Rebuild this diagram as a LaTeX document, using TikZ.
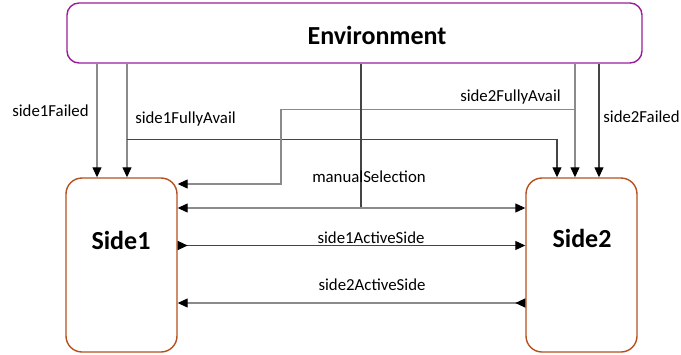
\documentclass[tikz,border=0pt]{standalone}
\usepackage{fontspec}
\setmainfont{Carlito}
\usetikzlibrary{arrows.meta,calc}
\definecolor{envcol}{HTML}{9A1E9A}
\definecolor{sidecol}{HTML}{B5501E}
\definecolor{lightln}{HTML}{8A8A8A}
\definecolor{darkln}{HTML}{454545}
\tikzset{
  tip/.tip={Triangle[width=9pt,length=10pt,color=black]},
  lbl/.style={font=\fontsize{16.8}{20}\selectfont, inner sep=0pt, anchor=center},
  big/.style={font=\fontsize{26}{30}\selectfont\bfseries, inner sep=0pt, anchor=center},
  lnl/.style={draw=lightln, line width=1.1pt},
  lnd/.style={draw=darkln, line width=1.1pt},
  envbox/.style={draw=envcol, line width=1.4pt, rounded corners=12pt, minimum width=575pt, minimum height=60pt, inner sep=0pt},
  sidebox/.style={draw=sidecol, line width=1.4pt, rounded corners=16pt, minimum width=111pt, minimum height=174pt, inner sep=0pt},
}
\begin{document}
\begin{tikzpicture}[x=1pt,y=-1pt]
\useasboundingbox (0,0) rectangle (681,354);
\node[envbox] (env) at (354.5,33) {};
\node[big] (envtext) at (377,35) {Environment};
\node[sidebox] (side1) at (121.5,265) {};
\node[big] (s1text) at (121,240) {Side1};
\node[sidebox] (side2) at (581.5,265) {};
\node[big] (s2text) at (582,238) {Side2};

% helper coordinates
\coordinate (xa) at (97,0);
\coordinate (xb) at (127,0);
\coordinate (xc) at (281,0);
\coordinate (xm) at (361,0);
\coordinate (xd) at (557,0);
\coordinate (xe) at (575,0);
\coordinate (xf) at (599,0);
\coordinate (ya) at (0,109.5);
\coordinate (yb) at (0,139.5);
\coordinate (yc) at (0,184);
\coordinate (ym) at (0,208);
\coordinate (y1) at (0,245.5);
\coordinate (y2) at (0,303);

% side1Failed
\draw[lnl,-tip] (env.south -| xa) -- (side1.north -| xa);
% side1FullyAvail
\draw[lnl,-tip] (env.south -| xb) -- (side1.north -| xb);
\draw[lnd,-tip] (xb |- yb) -- (xd |- yb) -- (side2.north -| xd);
% side2FullyAvail
\draw[lnl,-tip] (env.south -| xe) -- (side2.north -| xe);
\draw[lnl,-tip] (xe |- ya) -- (xc |- ya) -- (xc |- yc) -- (side1.east |- yc);
% side2Failed
\draw[lnd,-tip] (env.south -| xf) -- (side2.north -| xf);
% manualSelection
\draw[lnd] (env.south -| xm) -- (xm |- ym);
\draw[lnl,tip-tip] (side1.east |- ym) -- (side2.west |- ym);
% side1ActiveSide
\draw[lnd,{tip[reversed]}-tip] (side1.east |- y1) -- (side2.west |- y1);
% side2ActiveSide
\draw[lnl,tip-{tip[reversed]}] (side1.east |- y2) -- (side2.west |- y2);

% labels
\node[lbl] (l1) at (50.5,111) {side1Failed};
\node[lbl] (l2) at (185.5,119) {side1FullyAvail};
\node[lbl] (l3) at (510.5,97) {side2FullyAvail};
\node[lbl] (l4) at (641.5,117) {side2Failed};
\node[lbl] (l5) at (369,177) {manualSelection};
\node[lbl] (l6) at (371,238) {side1ActiveSide};
\node[lbl] (l7) at (372,285) {side2ActiveSide};
\end{tikzpicture}
\end{document}
